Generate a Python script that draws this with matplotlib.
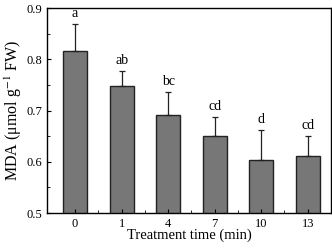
import matplotlib.pyplot as plt
import numpy as np

plt.rcParams['font.family'] = 'Liberation Serif'
plt.rcParams['mathtext.fontset'] = 'stix'

times = ['0', '1', '4', '7', '10', '13']
mda = [0.817, 0.748, 0.691, 0.651, 0.604, 0.612]
err = [0.052, 0.029, 0.045, 0.036, 0.058, 0.038]
letters = ['a', 'ab', 'bc', 'cd', 'd', 'cd']

fig = plt.figure(figsize=(3.32, 2.48), dpi=100)
ax = fig.add_axes([0.142, 0.141, 0.855, 0.826])

x = np.arange(len(times))
ax.bar(x, mda, width=0.52, color='#777777', edgecolor='#222222', linewidth=1.0)
ax.errorbar(x, mda, yerr=[np.zeros(len(err)), err], fmt='none',
            ecolor='#222222', elinewidth=0.9, capsize=2.2, capthick=0.9)
for xi, m, e, lab in zip(x, mda, err, letters):
    ax.text(xi, m + e + 0.008, lab, ha='center', va='bottom', fontsize=10)

ax.set_xlim(-0.6, 5.5)
ax.set_ylim(0.5, 0.9)
ax.set_xticks(x)
ax.set_xticklabels(times)
ax.set_xticks(x[:-1] + 0.5, minor=True)
ax.set_yticks([0.5, 0.6, 0.7, 0.8, 0.9])
ax.set_yticks(np.arange(0.55, 0.9, 0.1), minor=True)
ax.tick_params(direction='in', labelsize=9, length=3)
ax.tick_params(which='minor', direction='in', length=2)
for s in ax.spines.values():
    s.set_linewidth(1.0)

ax.set_xlabel('Treatment time (min)', fontsize=10.5, labelpad=-1)
ax.set_ylabel('MDA (μmol g$^{-1}$ FW)', fontsize=11.5, labelpad=2)

fig.savefig('out.png', dpi=100)
